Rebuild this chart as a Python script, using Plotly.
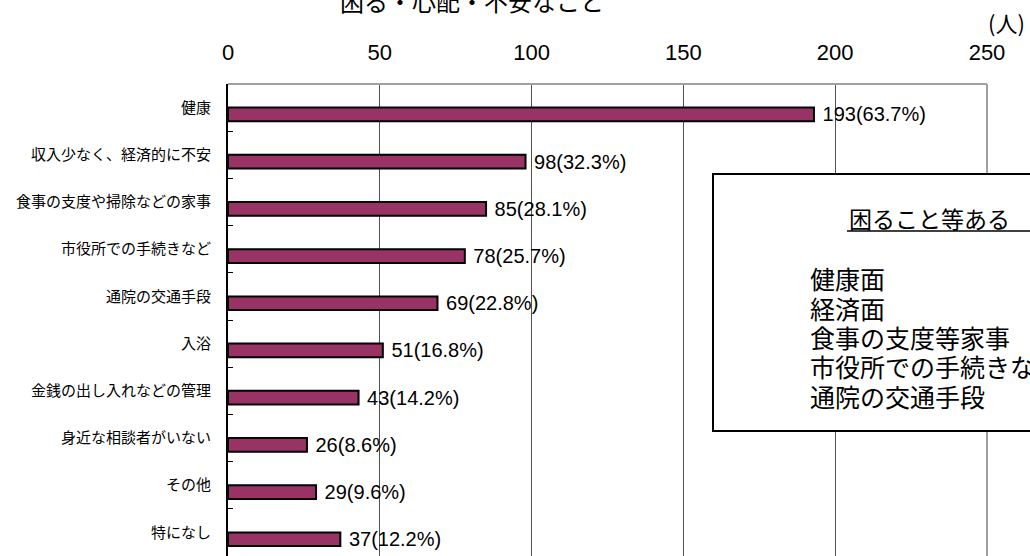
import plotly.graph_objects as go

categories = ["健康", "収入少なく、経済的に不安", "食事の支度や掃除などの家事", "市役所での手続きなど",
              "通院の交通手段", "入浴", "金銭の出し入れなどの管理", "身近な相談者がいない", "その他", "特になし"]
counts = [193, 98, 85, 78, 69, 51, 43, 26, 29, 37]
percents = ["63.7", "32.3", "28.1", "25.7", "22.8", "16.8", "14.2", "8.6", "9.6", "12.2"]
x_ticks = [0, 50, 100, 150, 200, 250]
title_text = "困る・心配・不安なこと"
unit_text = "(人)"
box_title = "困ること等ある"
box_items = ["健康面", "経済面", "食事の支度等家事", "市役所での手続きなど", "通院の交通手段"]

W, H = 1030, 556
L, R, T, B = 228, 43, 84, 0
PW, PH = W - L - R, H - T - B


def px(xp):
    return (xp - L) / PW


def py(yp):
    return (H - B - yp) / PH


JP = "Noto Sans CJK JP"
NUM = "Liberation Sans, Arial"

labels = [" %d(%s%%)" % (c, p) for c, p in zip(counts, percents)]

fig = go.Figure()
fig.add_trace(go.Bar(
    x=counts, y=categories, orientation="h",
    width=0.29, offset=0,
    marker=dict(color="#993366", line=dict(color="black", width=2)),
    text=labels, textposition="outside", constraintext="none", cliponaxis=False,
    textfont=dict(family=NUM, size=20, color="black"),
    hoverinfo="skip",
))

fig.update_layout(
    width=W, height=H,
    margin=dict(l=L, r=R, t=T, b=B, pad=0),
    paper_bgcolor="white", plot_bgcolor="white",
    showlegend=False,
    xaxis=dict(side="top", range=[0, 250], tickvals=x_ticks, ticktext=[str(v) for v in x_ticks],
               showgrid=True, gridcolor="#505050", gridwidth=1, zeroline=False,
               showline=False, ticks="", tickfont=dict(family=NUM, size=22, color="black"),
               ticklabelstandoff=19),
    yaxis=dict(type="category", categoryorder="array", categoryarray=categories,
               range=[9.5, -0.5], showgrid=False, zeroline=False,
               showline=True, linecolor="black", linewidth=2,
               ticks="inside", tickson="boundaries", ticklen=5, tickcolor="black", tickwidth=1,
               tickfont=dict(family=JP, size=15, color="black"), ticklabelstandoff=12),
    font=dict(family=JP),
)

# plot frame (top and right)
fig.add_shape(type="line", xref="paper", yref="paper", x0=0, x1=1, y0=1, y1=1,
              line=dict(color="#a0a0a0", width=2), layer="above")
fig.add_shape(type="line", xref="paper", yref="paper", x0=1, x1=1, y0=0, y1=1,
              line=dict(color="#a0a0a0", width=2), layer="above")

# text box
fig.add_shape(type="rect", xref="paper", yref="paper",
              x0=px(713), x1=px(1045), y0=py(431), y1=py(174),
              line=dict(color="black", width=2), fillcolor="white", layer="above")
fig.add_shape(type="line", xref="paper", yref="paper",
              x0=px(847), x1=px(1040), y0=py(231), y1=py(231),
              line=dict(color="black", width=1.5), layer="above")
fig.add_annotation(text=box_title, xref="paper", yref="paper", x=px(847), y=py(218),
                   xanchor="left", yanchor="middle", showarrow=False,
                   font=dict(family=JP, size=23, color="black"))
item_y = [278, 307.5, 337, 366, 395.5]
for t, yy in zip(box_items, item_y):
    fig.add_annotation(text=t, xref="paper", yref="paper", x=px(808), y=py(yy),
                       xanchor="left", yanchor="middle", showarrow=False,
                       font=dict(family=JP, size=25, color="black"))

# title and unit
fig.add_annotation(text=title_text, xref="paper", yref="paper", x=px(472), y=py(0),
                   xanchor="center", yanchor="middle", showarrow=False,
                   font=dict(family=JP, size=24, color="black"))
fig.add_annotation(text=unit_text, xref="paper", yref="paper", x=px(1006), y=py(22),
                   xanchor="center", yanchor="middle", showarrow=False,
                   font=dict(family=JP, size=22, color="black"))

fig.write_html("out.html")
